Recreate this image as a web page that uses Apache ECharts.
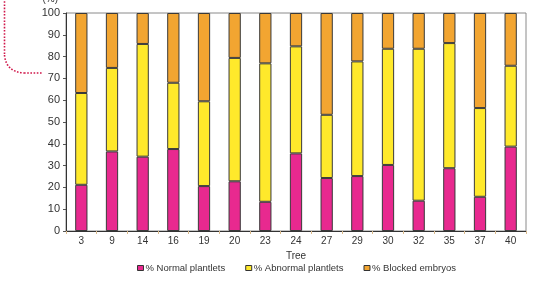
<!DOCTYPE html>
<html>
<head>
<meta charset="utf-8">
<script src="https://cdn.jsdelivr.net/npm/echarts@6/dist/echarts.min.js"></script>
<style>
  html, body { margin: 0; padding: 0; background: #fff; }
  #chart { width: 535px; height: 287px; }
</style>
</head>
<body>
<div id="chart"></div>
<script>
// trees on the x axis
const trees = ['3', '9', '14', '16', '19', '20', '23', '24', '27', '29', '30', '32', '35', '37', '40'];
// percentages, stacked to 100
const normalPlantlets   = [21.2, 36.5, 34.1, 37.6, 20.6, 22.8, 13.4, 35.6, 24.3, 25.2, 30.3, 13.9, 28.8, 15.7, 38.7];
const abnormalPlantlets = [42.1, 38.3, 51.7, 30.4, 38.9, 56.6, 63.5, 49.1, 29.0, 52.6, 53.3, 69.7, 57.4, 40.7, 37.1];
const blockedEmbryos    = [36.7, 25.2, 14.2, 32.0, 40.5, 20.6, 23.1, 15.3, 46.7, 22.2, 16.4, 16.4, 13.8, 43.6, 24.2];
const seriesNames = ['% Normal plantlets', '% Abnormal plantlets', '% Blocked embryos'];
const colors = ['#e8298f', '#ffe92b', '#f2a531'];

const font = 'Liberation Sans, Arial, sans-serif';

function bar(name, data, color) {
  return {
    name: name,
    type: 'bar',
    stack: 'all',
    data: data,
    barWidth: '40%',
    itemStyle: { color: color, borderColor: '#3a3a3a', borderWidth: 1 }
  };
}

// dotted red connector on the left edge (decoration only)
const dots = { stroke: '#d0174a', lineWidth: 1.6, lineDash: [1.6, 1.6], fill: null };

const chart = echarts.init(document.getElementById('chart'));
chart.setOption({
  animation: false,
  textStyle: { fontFamily: font },
  grid: {
    left: 66, right: 9, top: 13, bottom: 56,
    outerBoundsMode: 'none',
    containLabel: false,
    show: true, borderColor: '#8a8a8a', borderWidth: 1
  },
  legend: {
    top: 258,
    left: 132,
    itemWidth: 6,
    itemHeight: 5,
    itemGap: 20,
    icon: 'rect',
    textStyle: { fontSize: 9.5, color: '#333', fontFamily: font, padding: [0, 0, 0, -3] },
    data: seriesNames.map(n => ({ name: n, itemStyle: { borderColor: '#333', borderWidth: 1 } }))
  },
  xAxis: {
    type: 'category',
    data: trees,
    name: 'Tree',
    nameLocation: 'middle',
    nameGap: 15,
    nameTextStyle: { fontSize: 10, color: '#333' },
    axisLine: { lineStyle: { color: '#333', width: 1 } },
    axisTick: { show: true, length: 3, lineStyle: { color: '#d9b98a' } },
    axisLabel: { fontSize: 10, color: '#333', margin: 5 }
  },
  yAxis: {
    type: 'value',
    min: 0, max: 100, interval: 10,
    name: '(%)',
    nameGap: 9,
    nameTextStyle: { fontSize: 10, color: '#333', align: 'right', padding: [0, 8, 0, 0] },
    axisLine: { show: true, lineStyle: { color: '#333', width: 1 } },
    axisTick: { show: true, length: 3, lineStyle: { color: '#555' } },
    splitLine: { show: false },
    axisLabel: { fontSize: 11, color: '#333', margin: 6 }
  },
  series: [
    bar(seriesNames[0], normalPlantlets, colors[0]),
    bar(seriesNames[1], abnormalPlantlets, colors[1]),
    bar(seriesNames[2], blockedEmbryos, colors[2])
  ],
  graphic: [
    { type: 'line', shape: { x1: 4.5, y1: -2, x2: 4.5, y2: 55 }, style: dots },
    { type: 'bezierCurve', shape: { x1: 4.5, y1: 55, cpx1: 6, cpy1: 72, x2: 24, y2: 73 }, style: dots },
    { type: 'line', shape: { x1: 24, y1: 73, x2: 42, y2: 73 }, style: dots }
  ]
});
</script>
</body>
</html>
